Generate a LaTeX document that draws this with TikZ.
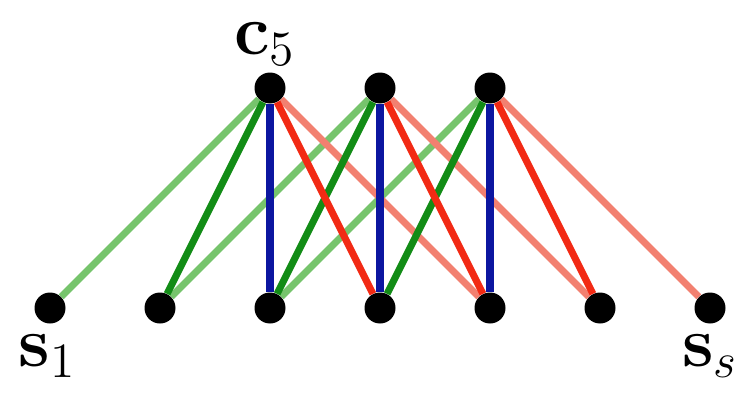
\documentclass[tikz,border=0pt]{standalone}
\usepackage{tikz}
\definecolor{lgreen}{RGB}{118,196,108}
\definecolor{dgreen}{RGB}{18,140,22}
\definecolor{eblue}{RGB}{12,22,160}
\definecolor{ered}{RGB}{242,42,20}
\definecolor{lred}{RGB}{242,128,112}

\begin{document}
\begin{tikzpicture}
\useasboundingbox (0,0) rectangle (14.8,7.9);
\tikzset{dot/.style={circle,fill=black,inner sep=0pt,minimum width=0.58cm,minimum height=0.62cm},
         edge/.style={line width=4pt},
         lab/.style={font=\huge,inner sep=0pt,scale=1.95,transform shape}}

\node (C-1) at (5.4,6.14) [dot]{};
\node (C-2) at (7.6,6.14) [dot]{};
\node (C-3) at (9.8,6.14) [dot]{};

\node (S-1) at (1.0,1.74) [dot]{};
\node (S-2) at (3.2,1.74) [dot]{};
\node (S-3) at (5.4,1.74) [dot]{};
\node (S-4) at (7.6,1.74) [dot]{};
\node (S-5) at (9.8,1.74) [dot]{};
\node (S-6) at (12.0,1.74) [dot]{};
\node (S-7) at (14.2,1.74) [dot]{};

\node (L-c) at (5.3,7.02) [lab]{$\mathbf{c}_5$};
\node (L-1) at (0.95,0.78) [lab]{$\mathbf{s}_1$};
\node (L-s) at (14.2,0.78) [lab]{$\mathbf{s}_s$};

% light edges
\draw [edge,color=lgreen] (C-1) -- (S-1);
\draw [edge,color=lgreen] (C-2) -- (S-2);
\draw [edge,color=lgreen] (C-3) -- (S-3);
\draw [edge,color=lred] (C-1) -- (S-5);
\draw [edge,color=lred] (C-2) -- (S-6);
\draw [edge,color=lred] (C-3) -- (S-7);

% dark edges
\draw [edge,color=dgreen] (C-1) -- (S-2);
\draw [edge,color=dgreen] (C-2) -- (S-3);
\draw [edge,color=dgreen] (C-3) -- (S-4);
\draw [edge,color=ered] (C-1) -- (S-4);
\draw [edge,color=ered] (C-2) -- (S-5);
\draw [edge,color=ered] (C-3) -- (S-6);
\draw [edge,color=eblue] (C-1) -- (S-3);
\draw [edge,color=eblue] (C-2) -- (S-4);
\draw [edge,color=eblue] (C-3) -- (S-5);

\end{tikzpicture}
\end{document}
